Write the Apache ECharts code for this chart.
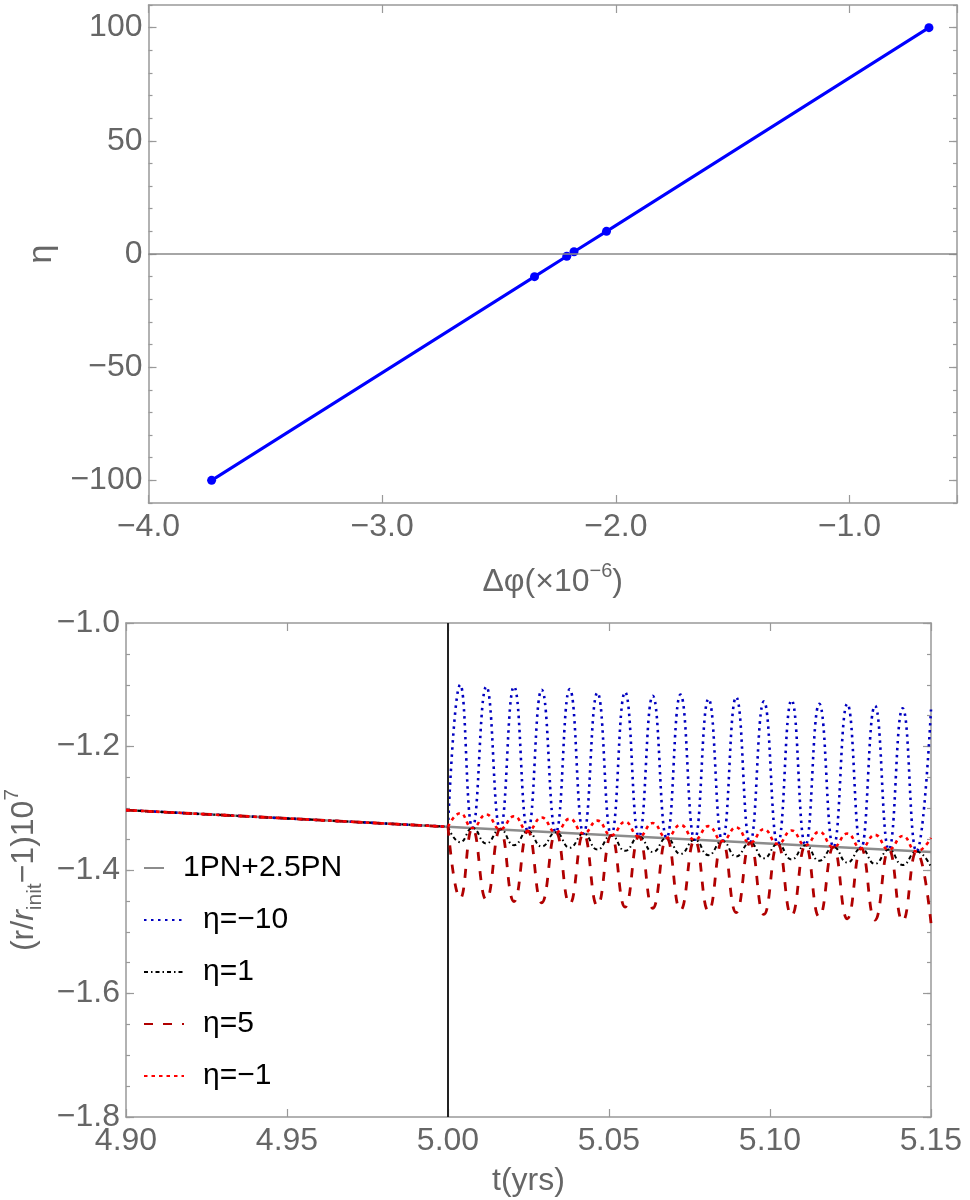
<!DOCTYPE html>
<html>
<head>
<meta charset="utf-8">
<script src="https://cdn.jsdelivr.net/npm/echarts@6/dist/echarts.min.js"></script>
<style>
  html, body { margin: 0; padding: 0; background: #fff; }
  #main { width: 970px; height: 1200px; }
</style>
</head>
<body>
<div id="main"></div>
<script>
// top panel: eta vs delta phi (x 1e-6)
var dphi = [-3.73, -2.348, -2.21, -2.179, -2.04, -0.66];
var eta = [-100, -10, -1, 1, 10, 100];
var dphiTicks = [-4, -3, -2, -1];
var etaTicks = [-100, -50, 0, 50, 100];

// bottom panel: (r/r_init - 1) 1e7 vs t(yrs)
var tBefore = [4.90, 5.00];
var rBefore = [-1.303, -1.330];
var tGR = [4.90, 5.15];
var rGR = [-1.303, -1.371];
var tTrough = [5.0000, 5.0076, 5.0162, 5.0248, 5.0335, 5.0421, 5.0507, 5.0593, 5.0679,
  5.0766, 5.0852, 5.0938, 5.1024, 5.1110, 5.1197, 5.1283, 5.1369, 5.1455];
var rTrough = [-1.330, -1.332, -1.334, -1.337, -1.339, -1.341, -1.344, -1.346, -1.348,
  -1.351, -1.353, -1.356, -1.358, -1.360, -1.363, -1.365, -1.367, -1.370];
var tPeak = [5.0038, 5.0119, 5.0205, 5.0291, 5.0378, 5.0464, 5.0550, 5.0636, 5.0722,
  5.0809, 5.0895, 5.0981, 5.1067, 5.1153, 5.1240, 5.1326, 5.1412, 5.1500];
var peakM10 = [-1.100, -1.103, -1.103, -1.108, -1.107, -1.113, -1.112, -1.118, -1.116,
  -1.123, -1.120, -1.127, -1.125, -1.131, -1.131, -1.134, -1.138, -1.140];
var peak1 = [-1.355, -1.357, -1.360, -1.362, -1.364, -1.367, -1.369, -1.371, -1.374,
  -1.376, -1.378, -1.381, -1.383, -1.385, -1.388, -1.390, -1.392, -1.395];
var peak5 = [-1.446, -1.448, -1.451, -1.453, -1.455, -1.458, -1.460, -1.462, -1.465,
  -1.467, -1.469, -1.472, -1.474, -1.476, -1.479, -1.481, -1.483, -1.486];
var peakM1 = [-1.308, -1.310, -1.313, -1.315, -1.317, -1.320, -1.322, -1.324, -1.327,
  -1.329, -1.331, -1.334, -1.336, -1.338, -1.341, -1.343, -1.345, -1.348];
var rTicks = [-1.8, -1.6, -1.4, -1.2, -1.0];

var FONT = 'Liberation Sans';
var GREY = '#666';
var FRAME = '#999';

function zip(xs, ys) {
  return xs.map(function (x, i) { return [x, ys[i]]; });
}
function wave(peaks) {
  var out = [];
  for (var i = 0; i < tTrough.length; i++) {
    out.push([tTrough[i], rTrough[i]]);
    out.push([tPeak[i], peaks[i]]);
  }
  return out;
}
function minus(s) { return s.replace('-', '\u2212'); }

// frame axis builder (mathematica style: ticks inside on all sides)
function frameAxis(o) {
  var a = {
    type: 'value',
    gridIndex: o.grid,
    position: o.pos,
    min: o.min, max: o.max, interval: o.interval,
    splitLine: { show: false },
    axisLine: { show: o.line !== false, onZero: false, lineStyle: { color: FRAME, width: 1.5 } },
    axisTick: { show: true, inside: true, length: o.tick || 8, lineStyle: { color: FRAME, width: 1.2 } },
    axisLabel: { show: false }
  };
  if (o.ticks) a.axisTick.customValues = o.ticks;
  if (o.labels) {
    a.axisLabel = {
      show: true, margin: o.margin || 6, color: GREY, fontSize: 32, fontFamily: FONT,
      formatter: function (v) { return minus(v.toFixed(o.dec)); }
    };
    if (o.labels !== true) a.axisLabel.customValues = o.labels;
  }
  return a;
}

var chart = echarts.init(document.getElementById('main'));

var lineBase = { type: 'line', showSymbol: false, symbol: 'none', animation: false,
  xAxisIndex: 2, yAxisIndex: 4 };
function etaSeries(name, color, width, dash, peaks, z) {
  var ls = { color: color, width: width, type: dash, cap: 'butt' };
  return [
    Object.assign({}, lineBase, { name: name, data: zip(tBefore, rBefore), lineStyle: ls, itemStyle: { color: color }, z: z }),
    Object.assign({}, lineBase, { name: name, data: wave(peaks), smooth: 0.5, lineStyle: ls, itemStyle: { color: color }, z: z })
  ];
}

var legendText = { fontSize: 30, fontFamily: FONT, color: '#000', lineHeight: 34, padding: [0, 0, 0, 14] };

var option = {
  animation: false,
  grid: [
    { left: 148.5, right: 13, top: 5, bottom: 697, outerBoundsMode: 'none' },
    { left: 126, right: 39, top: 623, bottom: 83, outerBoundsMode: 'none' }
  ],
  legend: [
    {
      data: ['1PN+2.5PN'], orient: 'vertical', left: 143, top: 851, padding: 0,
      itemWidth: 20, itemHeight: 14, selectedMode: false,
      itemStyle: { opacity: 0 }, textStyle: legendText
    },
    {
      data: ['\u03b7=\u221210', '\u03b7=1', '\u03b7=5', '\u03b7=\u22121'], orient: 'vertical',
      left: 143, top: 903, padding: 0, itemGap: 18,
      itemWidth: 40, itemHeight: 14, selectedMode: false,
      itemStyle: { opacity: 0 }, textStyle: legendText
    }
  ],
  xAxis: [
    Object.assign(frameAxis({ grid: 0, pos: 'bottom', min: -4, max: -0.54, interval: 1, labels: dphiTicks, dec: 1, margin: 8 }), {
      name: '{m|\u0394\u03c6(\u00d710}{s|\u22126}{m|)}', nameLocation: 'middle', nameGap: 58,
      nameTextStyle: { rich: {
        m: { fontSize: 32, fontFamily: FONT, color: GREY, lineHeight: 42 },
        s: { fontSize: 20, fontFamily: FONT, color: GREY, lineHeight: 20, verticalAlign: 'top' }
      } }
    }),
    frameAxis({ grid: 0, pos: 'top', min: -4, max: -0.54, interval: 1 }),
    Object.assign(frameAxis({ grid: 1, pos: 'bottom', min: 4.90, max: 5.15, interval: 0.05, labels: true, dec: 2, margin: 8 }), {
      name: 't(yrs)', nameLocation: 'middle', nameGap: 48,
      nameTextStyle: { fontSize: 32, fontFamily: FONT, color: GREY }
    }),
    frameAxis({ grid: 1, pos: 'top', min: 4.90, max: 5.15, interval: 0.05 })
  ],
  yAxis: [
    Object.assign(frameAxis({ grid: 0, pos: 'left', min: -110, max: 110, interval: 10, ticks: etaTicks, labels: etaTicks, dec: 0 }), {
      name: '\u03b7', nameLocation: 'middle', nameGap: 90, nameRotate: 90,
      nameTextStyle: { fontSize: 34, fontFamily: FONT, color: GREY }
    }),
    frameAxis({ grid: 0, pos: 'left', min: -110, max: 110, interval: 10, tick: 4, line: false }),
    frameAxis({ grid: 0, pos: 'right', min: -110, max: 110, interval: 10, ticks: etaTicks }),
    frameAxis({ grid: 0, pos: 'right', min: -110, max: 110, interval: 10, tick: 4, line: false }),
    Object.assign(frameAxis({ grid: 1, pos: 'left', min: -1.8, max: -1.0, interval: 0.05, ticks: rTicks, labels: rTicks, dec: 1 }), {
      name: '{m|(r/}{i|r}{b|init}{m|\u22121)10}{s|7}', nameLocation: 'middle', nameGap: 76, nameRotate: 90,
      nameTextStyle: { rich: {
        m: { fontSize: 32, fontFamily: FONT, color: GREY, lineHeight: 44 },
        i: { fontSize: 32, fontFamily: FONT, fontStyle: 'italic', color: GREY, lineHeight: 44 },
        b: { fontSize: 21, fontFamily: FONT, color: GREY, lineHeight: 21, verticalAlign: 'bottom' },
        s: { fontSize: 21, fontFamily: FONT, color: GREY, lineHeight: 21, verticalAlign: 'top' }
      } }
    }),
    frameAxis({ grid: 1, pos: 'left', min: -1.8, max: -1.0, interval: 0.05, tick: 4, line: false }),
    frameAxis({ grid: 1, pos: 'right', min: -1.8, max: -1.0, interval: 0.05, ticks: rTicks }),
    frameAxis({ grid: 1, pos: 'right', min: -1.8, max: -1.0, interval: 0.05, tick: 4, line: false })
  ],
  series: [
    {
      type: 'line', xAxisIndex: 0, yAxisIndex: 0, data: [], z: 1, silent: true,
      markLine: { silent: true, symbol: 'none', label: { show: false },
        lineStyle: { color: '#888', width: 1.5, type: 'solid' }, data: [{ yAxis: 0 }] }
    },
    {
      type: 'line', xAxisIndex: 0, yAxisIndex: 0, data: zip(dphi, eta), z: 3,
      symbol: 'circle', symbolSize: 9, showSymbol: true,
      lineStyle: { color: '#0000ff', width: 3 }, itemStyle: { color: '#0000ff' }
    },
    Object.assign({}, lineBase, {
      name: '1PN+2.5PN', data: zip(tGR, rGR), z: 2,
      lineStyle: { color: '#8c8c8c', width: 2.5 }, itemStyle: { color: '#8c8c8c' },
      markLine: { silent: true, symbol: 'none', label: { show: false },
        lineStyle: { color: '#222', width: 2, type: 'solid' }, data: [{ xAxis: 5.0 }] }
    })
  ]
    .concat(etaSeries('\u03b7=\u221210', '#0000c0', 2.6, [2.5, 4.5], peakM10, 3))
    .concat(etaSeries('\u03b7=1', '#000000', 2, [4, 3, 1.5, 3], peak1, 4))
    .concat(etaSeries('\u03b7=5', '#b00000', 2.8, [9, 10], peak5, 5))
    .concat(etaSeries('\u03b7=\u22121', '#ff0000', 2.6, [3.5, 4], peakM1, 6))
};

chart.setOption(option);
</script>
</body>
</html>
